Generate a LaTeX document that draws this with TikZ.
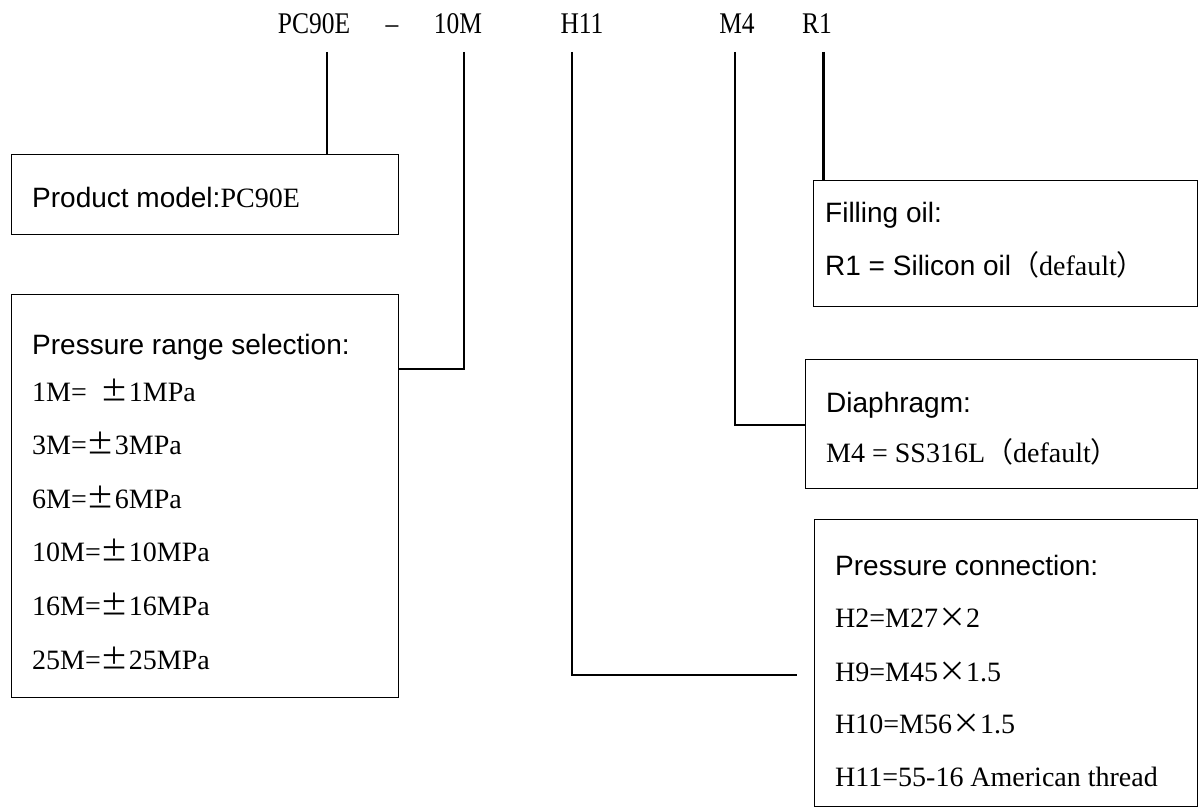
\documentclass[tikz,border=0pt]{standalone}
\usepackage{fontspec}
\setmainfont{Liberation Serif}
\newfontfamily\sans{Liberation Sans}
\newfontfamily\cjk{Noto Sans CJK SC}
\begin{document}
\begin{tikzpicture}[x=1pt,y=-1pt,
  box/.style={draw,line width=1.3pt,anchor=north west,inner sep=0pt},
  codelbl/.style={inner sep=0pt,anchor=base,font=\fontsize{30}{30}\selectfont,xscale=0.85},
  txt/.style={anchor=west,inner sep=0pt,font=\fontsize{28}{28}\selectfont},
  conn/.style={line width=1.3pt},
  thick conn/.style={line width=3pt}]
\useasboundingbox (0,0) rectangle (1200,808);
% top code labels
\node[codelbl] (lPC) at (314,34) {PC90E};
\node[codelbl] (ldash) at (392,34) {–};
\node[codelbl] (l10M) at (458,34) {10M};
\node[codelbl] (lH11) at (582,34) {H11};
\node[codelbl] (lM4) at (737,34) {M4};
\node[codelbl] (lR1) at (817,34) {R1};
% boxes
\node[box,minimum width=387,minimum height=80] (b1) at (11,154) {};
\node[box,minimum width=387,minimum height=403] (b2) at (11,294) {};
\node[box,minimum width=384,minimum height=126] (b3) at (813,180) {};
\node[box,minimum width=392,minimum height=129] (b4) at (805,359) {};
\node[box,minimum width=383,minimum height=287] (b5) at (814,519) {};
% texts
\node[txt] (t1) at (32,197) {{\sans Product model:}PC90E};
\node[txt] (t2a) at (32,347) {\sans Pressure range selection:};
\node[txt] (t2b) at (32,390) {1M=\ \ {\cjk ±}1MPa};
\node[txt] (t2c) at (32,443.6) {3M={\cjk ±}3MPa};
\node[txt] (t2d) at (32,497.2) {6M={\cjk ±}6MPa};
\node[txt] (t2e) at (32,550.8) {10M={\cjk ±}10MPa};
\node[txt] (t2f) at (32,604.4) {16M={\cjk ±}16MPa};
\node[txt] (t2g) at (32,658) {25M={\cjk ±}25MPa};
\node[txt] (t3a) at (825,215) {\sans Filling oil:};
\node[txt] (t3b) at (825,265) {{\sans R1 = Silicon oil}{\cjk （}default{\cjk ）}};
\node[txt] (t4a) at (826,405) {\sans Diaphragm:};
\node[txt] (t4b) at (826,452) {M4 = SS316L{\cjk （}default{\cjk ）}};
\node[txt] (t5a) at (835,565) {\sans Pressure connection:};
\node[txt] (t5b) at (835,618) {H2=M27{\cjk ×}2};
\node[txt] (t5c) at (835,672) {H9=M45{\cjk ×}1.5};
\node[txt] (t5d) at (835,724) {H10=M56{\cjk ×}1.5};
\node[txt] (t5e) at (835,777) {H11=55-16 American thread};
% connector start points
\coordinate (cPC) at (327,52);
\coordinate (c10M) at (464,52);
\coordinate (cH11) at (572,52);
\coordinate (cM4) at (735,52);
\coordinate (cR1) at (823,52);
\coordinate (eH11) at (797,675);
% connectors
\draw[conn] (cPC) -- (cPC |- b1.north);
\draw[conn] (c10M) -- (c10M |- 0,369) -- (b2.east |- 0,369);
\draw[conn] (cH11) -- (cH11 |- eH11) -- (eH11);
\draw[conn] (cM4) -- (cM4 |- 0,425) -- (b4.west |- 0,425);
\draw[thick conn] (cR1) -- (cR1 |- b3.north);
\end{tikzpicture}
\end{document}
